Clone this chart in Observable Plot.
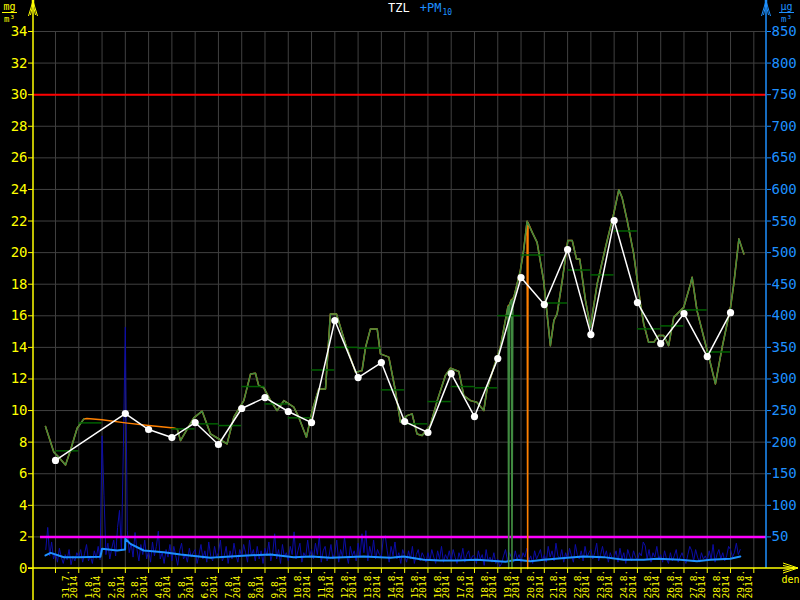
<!DOCTYPE html>
<html><head><meta charset="utf-8">
<script src="https://cdn.jsdelivr.net/npm/d3@7"></script>
<script src="https://cdn.jsdelivr.net/npm/@observablehq/plot@0.6"></script>
<style>html,body{margin:0;padding:0;background:#000;overflow:hidden}#chart{width:800px;height:600px}</style>
</head><body><div id="chart"></div>
<script>
// ---- data (time in days since 31.7.2014 00:00) ----
const dayLabels = ["31.7.","1.8.","2.8.","3.8.","4.8.","5.8.","6.8.","7.8.","8.8.","9.8.","10.8.","11.8.","12.8.","13.8.","14.8.","15.8.","16.8.","17.8.","18.8.","19.8.","20.8.","21.8.","22.8.","23.8.","24.8.","25.8.","26.8.","27.8.","28.8.","29.8."];
const yearLabel = "2014";
const tzlTicks = [0,2,4,6,8,10,12,14,16,18,20,22,24,26,28,30,32,34];
const pmTicks = [50,100,150,200,250,300,350,400,450,500,550,600,650,700,750,800,850];
const limitTZL = 30;   // mg/m3
const limitPM10 = 50;  // ug/m3
const ugPerMg = 25;    // right axis = left axis * 25

// TZL measured (green); null = gap
const tzlT = [-0.43,-0.07,0.14,0.43,0.64,0.93,1.22,3.0,5.23,5.37,5.94,6.3,6.66,7.02,7.37,7.66,8.09,8.38,8.59,8.73,8.95,9.24,9.52,9.81,10.24,10.45,10.78,11.03,11.31,11.6,11.81,12.07,12.46,12.89,13.17,13.32,13.53,13.82,13.96,14.32,14.6,14.82,15.1,15.32,15.53,15.75,16.1,16.4,16.75,16.97,17.33,17.54,17.83,18.1,18.4,18.54,18.83,19.11,19.44,19.47,19.5,19.58,19.61,19.65,19.69,19.97,20.11,20.26,20.48,20.69,20.97,21.26,21.41,21.55,21.77,22.01,22.2,22.38,22.52,22.77,22.98,23.27,23.63,23.98,24.2,24.34,24.56,24.84,25.13,25.27,25.48,25.7,25.91,26.13,26.34,26.56,26.99,27.28,27.35,27.56,27.85,28.14,28.35,28.64,29.0,29.14,29.36,29.57];
const tzlV = [8.99,7.36,7.05,6.56,7.47,8.88,9.47,null,8.84,8.1,9.54,9.96,8.52,8.2,7.89,9.58,10.63,12.32,12.36,11.58,11.44,10.63,10.0,10.63,10.21,9.58,8.31,10.0,11.37,11.37,16.12,16.12,14.22,12.42,12.53,14.0,15.17,15.17,13.59,13.38,11.27,9.26,9.68,9.79,8.52,8.42,9.05,10.63,12.22,12.68,12.47,10.95,10.63,10.53,10.0,11.37,12.74,14.0,16.6,0,16.7,17.0,0,17.1,17.17,18.86,20.13,21.98,21.28,20.65,18.23,14.11,15.7,16.12,18.23,20.76,20.76,19.6,19.6,16.96,15.27,18.02,20.34,22.45,23.97,23.5,22.03,19.92,16.75,15.49,14.32,14.32,14.75,14.75,14.11,15.9,16.54,18.02,18.44,16.33,14.64,12.96,11.69,14.0,16.54,18.02,20.87,19.92];

// TZL filled series (orange): extra points
const fillT = [1.35,2.0,3.0,4.0,5.08,20.285,20.30];
const fillV = [9.5,9.42,9.22,9.05,8.9,0,21.9];

// daily averages (dark green segments)
const dailyAvg = [7.45,9.22,null,null,null,8.84,9.16,9.05,11.52,10.42,9.54,12.57,14.0,13.95,11.31,9.16,10.57,11.52,11.44,16.01,19.85,16.81,18.9,18.59,21.37,15.17,15.36,16.37,13.71,null];

// daily values (white points)
const dayPtT = [0,3,4,5,6,7,8,9,10,11,12,13,14,15,16,17,18,19,20,21,22,23,24,25,26,27,28,29];
const dayPtV = [6.84,9.81,8.80,8.29,9.24,7.85,10.13,10.82,9.94,9.24,15.70,12.09,13.04,9.30,8.61,12.34,9.62,13.29,18.42,16.71,20.19,14.81,22.03,16.84,14.24,16.14,13.42,16.20];

// PM10 2-hourly values in ug/m3 (dark blue), starting at pmStart, step pmStep days
const pmStart = -5/12, pmStep = 1/12;
const pm10 = [30,65,20,42,15,
 25,10,32,18,8,22,14,30,6,20,12,25,
 18,30,10,24,38,12,20,8,28,16,35,14,
 210,115,22,40,15,32,45,20,65,92,28,192,
 382,60,25,40,18,57,30,12,38,22,45,15,
 28,10,42,20,35,59,15,25,8,30,18,38,
 12,35,20,5,28,40,15,22,10,32,18,25,
 30,8,22,38,15,28,10,42,20,12,35,18,
 25,45,12,20,35,8,28,15,40,22,10,30,
 18,38,25,10,45,20,30,12,35,15,28,8,
 32,20,42,12,25,55,15,30,8,38,18,25,
 12,35,22,58,15,28,40,10,25,18,45,20,
 30,15,40,22,52,10,28,35,12,20,38,15,
 25,45,10,30,18,50,22,8,35,20,28,12,
 40,18,55,25,60,12,35,20,45,15,30,22,
 18,48,52,28,10,35,20,42,15,25,8,30,
 20,10,28,15,35,8,22,30,12,25,18,10,
 25,12,30,18,8,28,15,35,10,22,15,28,
 12,30,18,8,25,15,32,10,22,28,12,20,
 20,8,28,15,22,5,30,12,18,10,25,8,
 15,3,8,20,30,12,25,18,10,28,15,22,
 10,25,18,32,12,20,8,28,15,22,30,12,
 22,10,35,18,28,12,40,20,15,30,10,25,
 15,32,20,10,38,22,15,28,12,35,18,25,
 30,15,25,40,12,22,35,18,28,10,25,15,
 18,28,10,32,15,25,8,30,20,12,28,18,
 12,25,20,42,36,15,30,10,25,18,35,15,
 22,10,28,15,8,25,12,20,30,10,18,25,
 15,8,22,35,28,12,30,18,10,25,15,20,
 12,28,15,38,10,22,30,15,25,12,20,35,
 30,18,25,40,22,30];

// PM10 running mean (light blue)
const pmAvgT = [-0.43,-0.21,0.36,1.0,1.93,2.0,2.65,2.99,3.0,3.22,3.79,4.65,5.37,6.66,7.0,8.23,9.24,10.24,11.0,11.81,13.24,14.39,14.96,15.82,16.54,17.26,18.11,19.33,19.83,20.4,20.98,21.98,22.69,23.55,24.41,25.27,25.85,26.85,27.56,28.13,28.99,29.42];
const pmAvgV = [20.6,24.8,17.9,18,18.5,31.2,28.5,30,47,39,28.5,25.8,22.2,16.9,18,20.6,22.2,17.9,18.9,16.9,18.9,16.9,19,13.8,12.7,12.7,13.8,10.6,13.8,11.6,13.8,16.9,19,18,13.8,13.8,15.3,13.8,11.6,13.8,15.3,19];

// ---- build ----
const X0 = -0.945, X1 = 30.545;
const YEL = "#ffff00", BLU = "#1e90ff";
const tzl = tzlT.map((t,i)=>({t, v: tzlV[i]}));
const tzlFill = tzl.filter(d=>d.v!=null && d.v>0).concat(fillT.map((t,i)=>({t, v: fillV[i]}))).sort((a,b)=>a.t-b.t);
const daily = dailyAvg.map((v,i)=>({i, v})).filter(d=>d.v!=null);
const dayPts = dayPtT.map((t,i)=>({t, v: dayPtV[i]}));
const pm = pm10.map((v,i)=>({t: pmStart + i*pmStep, v}));
const pmAvg = pmAvgT.map((t,i)=>({t, v: pmAvgV[i]}));
const gridDays = d3.range(0, dayLabels.length + 1);

const chart = Plot.plot({
  width: 800, height: 600,
  marginTop: 31, marginBottom: 32, marginLeft: 33, marginRight: 34,
  x: {domain: [X0, X1]},
  y: {domain: [0, 34]},
  style: {background: "#000", fontFamily: "DejaVu Sans Mono"},
  marks: [
    Plot.gridX(gridDays, {stroke: "#404040", strokeOpacity: 1}),
    Plot.gridY(tzlTicks.filter(d=>d>0), {stroke: "#404040", strokeOpacity: 1}),
    Plot.line(pm, {x: "t", y: d=>d.v/ugPerMg, stroke: "#0c0ca8", strokeWidth: 1}),
    Plot.ruleY([limitPM10/ugPerMg], {stroke: "#ff00ff", strokeWidth: 2.5, insetLeft: 7}),
    Plot.line(pmAvg, {x: "t", y: d=>d.v/ugPerMg, stroke: BLU, strokeWidth: 2}),
    Plot.line(tzlFill, {x: "t", y: "v", stroke: "#ff8000", strokeWidth: 1.5}),
    Plot.line(tzl, {x: "t", y: "v", stroke: "#408a40", strokeWidth: 1.5}),
    Plot.ruleY(daily, {y: "v", x1: "i", x2: d=>d.i+1, stroke: "#006000", strokeWidth: 1.5}),
    Plot.line(dayPts, {x: "t", y: "v", stroke: "#fff", strokeWidth: 1.5}),
    Plot.dot(dayPts, {x: "t", y: "v", r: 3.6, fill: "#fff"}),
    Plot.ruleY([limitTZL], {stroke: "#ff0000", strokeWidth: 2}),
    Plot.axisX(gridDays, {tickSize: 5, tickFormat: () => "", color: YEL, label: null}),
    Plot.text(dayLabels, {x: (d,i)=>i+0.5, y: 0, text: d=>d+"\n"+yearLabel, rotate: -90,
      textAnchor: "start", lineAnchor: "middle", dx: 3, dy: 30, fill: YEL, fontSize: 9.5, lineHeight: 0.88}),
    Plot.axisY(tzlTicks, {anchor: "left", tickSize: 5, tickPadding: 1, color: YEL, fontSize: 14, label: null}),
    Plot.axisY(pmTicks.map(v=>v/ugPerMg), {anchor: "right", tickSize: 4, tickPadding: 1, color: BLU, fontSize: 14, label: null,
      tickFormat: d=>String(Math.round(d*ugPerMg))})
  ]
});
document.getElementById("chart").appendChild(chart);

// ---- axis decorations ----
const xs = chart.scale("x"), ys = chart.scale("y");
const xL = xs.apply(X0), xR = xs.apply(X1), yB = ys.apply(0);
const svg = d3.select(chart);
const g = svg.append("g").attr("fill", "none");
function upArrow(x, color, bottom){
  g.append("line").attr("x1", x).attr("x2", x).attr("y1", 1).attr("y2", bottom).attr("stroke", color).attr("stroke-width", 1.5);
  g.append("path").attr("d", `M${x-4.5},16L${x},1L${x+4.5},16M${x-2.5},15L${x},4L${x+2.5},15`).attr("stroke", color).attr("stroke-width", 1);
  g.append("line").attr("x1", x).attr("x2", x).attr("y1", 0).attr("y2", 6).attr("stroke", color).attr("stroke-width", 2.5);
}
upArrow(xL, YEL, 600);
upArrow(xR, BLU, yB);
// x axis line and arrow
g.append("line").attr("x1", xL-5).attr("x2", 798).attr("y1", yB).attr("y2", yB).attr("stroke", YEL).attr("stroke-width", 1.5);
g.append("path").attr("d", `M783,${yB-5}L798,${yB}L783,${yB+5}M783,${yB-2.5}L795,${yB}L783,${yB+2.5}`).attr("stroke", YEL).attr("stroke-width", 1);
svg.append("text").attr("x", 790.5).attr("y", yB+15).attr("text-anchor", "middle").attr("fill", YEL)
  .attr("font-size", 10).attr("font-family", "DejaVu Sans Mono").text("den");
// units
function unit(cx, top, bottom, color){
  svg.append("text").attr("x", cx).attr("y", 10).attr("text-anchor","middle").attr("fill", color).attr("font-size", 10).attr("font-family","DejaVu Sans Mono").text(top);
  g.append("line").attr("x1", cx-7.5).attr("x2", cx+7.5).attr("y1", 12.5).attr("y2", 12.5).attr("stroke", color).attr("stroke-width", 1);
  svg.append("text").attr("x", cx).attr("y", 21.5).attr("text-anchor","middle").attr("fill", color).attr("font-size", 9).attr("font-family","DejaVu Sans Mono").text(bottom);
}
unit(9.5, "mg", "m³", YEL);
unit(786.5, "µg", "m³", BLU);
// title
const t = svg.append("text").attr("x", 388).attr("y", 12).attr("text-anchor", "start")
  .attr("font-family", "DejaVu Sans Mono").attr("font-size", 12);
t.append("tspan").attr("fill", "#fff").text("TZL");
t.append("tspan").attr("fill", BLU).attr("dx", 10).text("+PM");
t.append("tspan").attr("fill", BLU).attr("dx", 1).attr("dy", 3).attr("font-size", 8).text("10");
</script></body></html>
